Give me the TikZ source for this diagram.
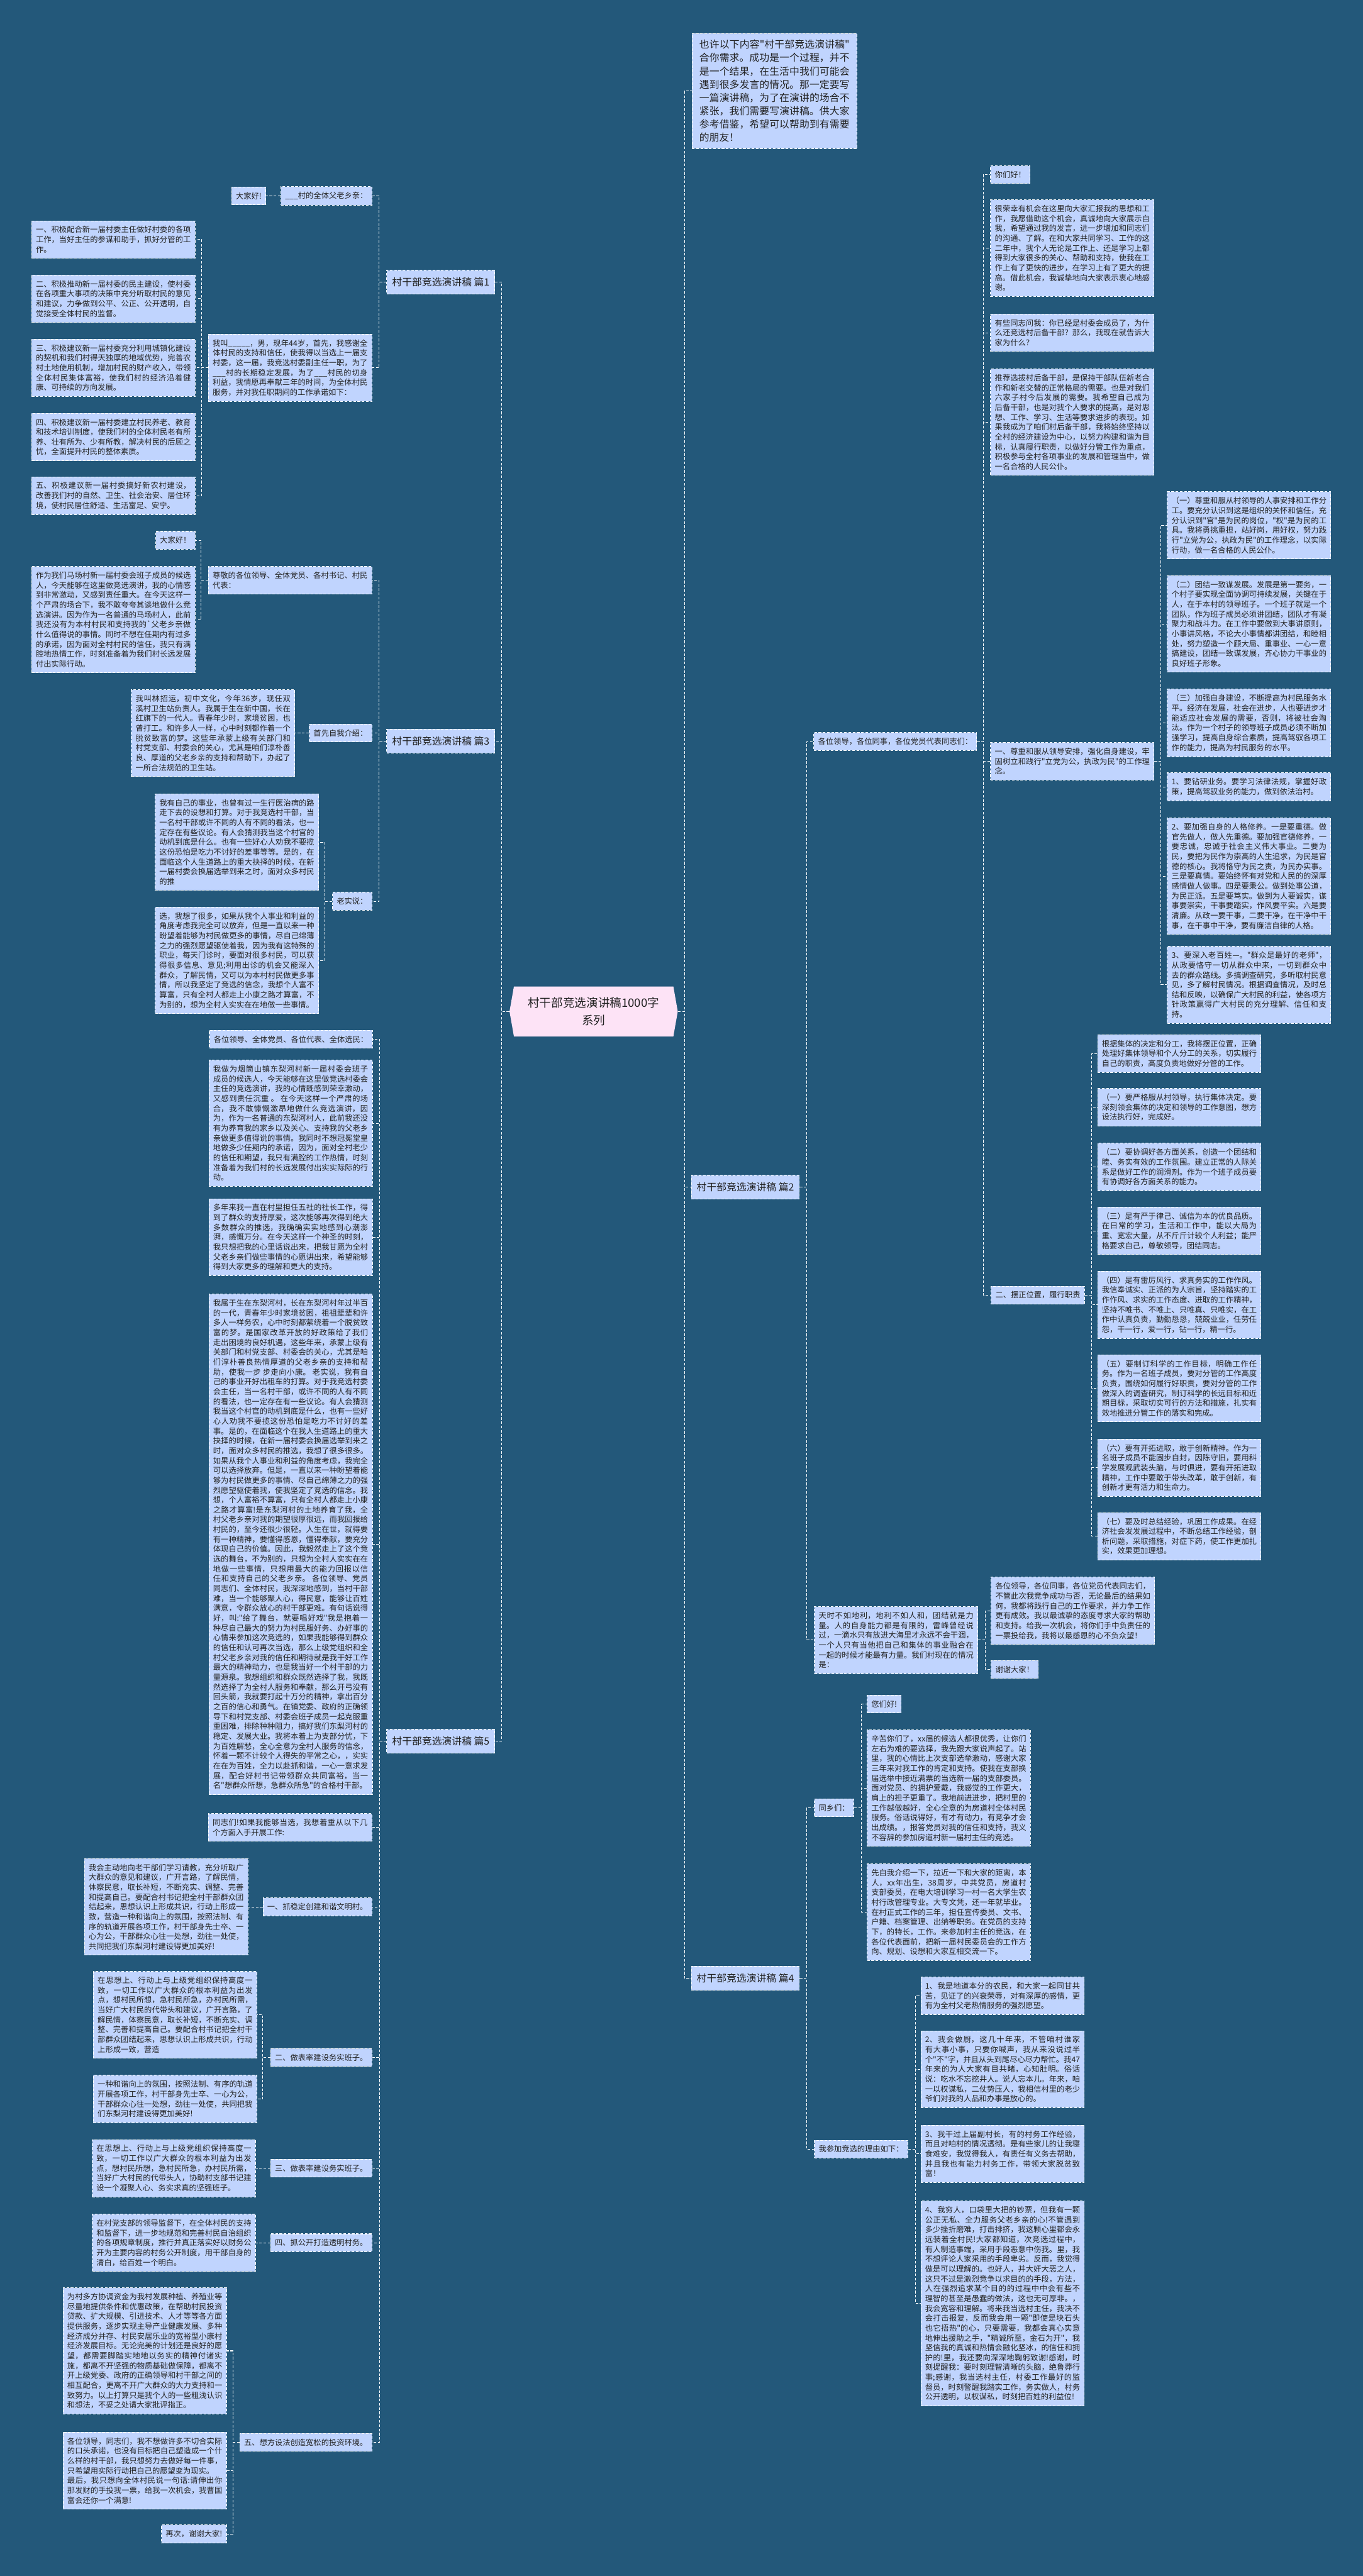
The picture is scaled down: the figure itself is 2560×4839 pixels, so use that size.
\documentclass[tikz,border=0pt]{standalone}
\usepackage{fontspec}
\newfontfamily\cjk{Noto Sans CJK SC}
\XeTeXlinebreaklocale "zh"
\XeTeXlinebreakskip=0pt plus 1pt
\usetikzlibrary{positioning,shapes.symbols}

\definecolor{sea}{HTML}{23587A}
\definecolor{card}{HTML}{C0D4FE}
\definecolor{rose}{HTML}{FDE3F6}
\definecolor{ink}{HTML}{222222}

\tikzset{
  box/.style={draw=white, dash pattern=on 2.5pt off 1.5pt, line width=0.6pt, fill=card, text=ink,
    inner xsep=4pt, inner ysep=5pt, font=\cjk\fontsize{7.25pt}{9.25pt}\selectfont},
  leaf/.style={box, text width=145.5pt, align=justify},
  pian/.style={box, font=\cjk\fontsize{9.35pt}{12.5pt}\selectfont, inner xsep=5pt, minimum height=22.5pt},
  link/.style={draw=white, dash pattern=on 2.5pt off 1.5pt, line width=0.6pt},
}

\begin{document}
\begin{tikzpicture}[x=0.5pt,y=-0.5pt]
\useasboundingbox (0,0) rectangle (2560,4839);
\fill[sea] (0,0) rectangle (2560,4839);

\node[signal, signal to=east and west, signal pointer angle=160, fill=rose, text=ink,
  font=\cjk\fontsize{11pt}{16.5pt}\selectfont, align=center, minimum width=158pt, minimum height=47pt]
  (root) at (1115,1900) {村干部竞选演讲稿1000字\\系列};

% left: 篇1
\node[pian, anchor=east] (t1) at (930,530) {村干部竞选演讲稿 篇1};
\node[box, anchor=east] (p1a) at (699,368) {\_\_\_村的全体父老乡亲：};
\node[box, left=13.5pt of p1a] (p1b) {大家好!};
\node[leaf, anchor=east] (p1c) at (699,691) {我叫\_\_\_\_\_，男，现年44岁，首先，我感谢全体村民的支持和信任，使我得以当选上一届支村委，这一届，我竞选村委副主任一职，为了\_\_\_村的长期稳定发展，为了\_\_\_村民的切身利益，我情愿再奉献三年的时间，为全体村民服务，并对我任职期间的工作承诺如下：};
\node[leaf, anchor=east] (p1c1) at (367,450) {一、积极配合新一届村委主任做好村委的各项工作，当好主任的参谋和助手，抓好分管的工作。};
\node[leaf, anchor=east] (p1c2) at (367,561) {二、积极推动新一届村委的民主建设，使村委在各项重大事项的决策中充分听取村民的意见和建议，力争做到公平、公正、公开透明，自觉接受全体村民的监督。};
\node[leaf, anchor=east] (p1c3) at (367,691) {三、积极建议新一届村委充分利用城镇化建设的契机和我们村得天独厚的地域优势，完善农村土地使用机制，增加村民的财产收入，带领全体村民集体富裕，使我们村的经济沿着健康、可持续的方向发展。};
\node[leaf, anchor=east] (p1c4) at (367,821) {四、积极建议新一届村委建立村民养老、教育和技术培训制度，使我们村的全体村民老有所养、壮有所为、少有所教，解决村民的后顾之忧，全面提升村民的整体素质。};
\node[leaf, anchor=east] (p1c5) at (367,931) {五、积极建议新一届村委搞好新农村建设，改善我们村的自然、卫生、社会治安、居住环境，使村民居住舒适、生活富足、安宁。};

% left: 篇3
\node[pian, anchor=east] (t3) at (930,1392) {村干部竞选演讲稿 篇3};
\node[leaf, anchor=east] (p3a) at (699,1090) {尊敬的各位领导、全体党员、各村书记、村民代表：};
\node[box, anchor=east] (p3a1) at (367,1015) {大家好！};
\node[leaf, anchor=east] (p3a2) at (367,1164) {作为我们马场村新一届村委会班子成员的候选人，今天能够在这里做竞选演讲，我的心情感到非常激动，又感到责任重大。在今天这样一个严肃的场合下，我不敢夸夸其谈地做什么竞选演讲。因为作为一名普通的马场村人，此前我还没有为本村村民和支持我的\textasciigrave 父老乡亲做什么值得说的事情。同时不想在任期内有过多的承诺，因为面对全村村民的信任，我只有满腔地热情工作，时刻准备着为我们村长远发展付出实际行动。};
\node[box, anchor=east] (p3b) at (699,1377) {首先自我介绍：};
\node[leaf, left=13pt of p3b] (p3b1) {我叫林招运，初中文化，今年36岁，现任双溪村卫生站负责人。我属于生在新中国，长在红旗下的一代人。青春年少时，家境贫困，也曾打工。和许多人一样，心中时刻都作着一个脱贫致富的梦。这些年承蒙上级有关部门和村党支部、村委会的关心，尤其是咱们淳朴善良、厚道的父老乡亲的支持和帮助下，办起了一所合法规范的卫生站。};
\node[box, anchor=east] (p3c) at (699,1693) {老实说：};
\node[leaf, anchor=east] (p3c1) at (599,1582) {我有自己的事业，也曾有过一生行医治病的路走下去的设想和打算。对于我竞选村干部，当一名村干部或许不同的人有不同的看法，也一定存在有些议论。有人会猜测我当这个村官的动机到底是什么。也有一些好心人劝我不要揽这份恐怕是吃力不讨好的差事等等。是的，在面临这个人生道路上的重大抉择的时候，在新一届村委会换届选举到来之时，面对众多村民的推};
\node[leaf, anchor=east] (p3c2) at (599,1804) {选，我想了很多，如果从我个人事业和利益的角度考虑我完全可以放弃，但是一直以来一种盼望着能够为村民做更多的事情，尽自己绵薄之力的强烈愿望驱使着我，因为我有这特殊的职业，每天门诊时，要面对很多村民，可以获得很多信息、意见;利用出诊的机会又能深入群众，了解民情，又可以为本村村民做更多事情，所以我坚定了竞选的信念，我想个人富不算富，只有全村人都走上小康之路才算富，不为别的，想为全村人实实在在地做一些事情。};

% left: 篇5
\node[pian, anchor=east] (t5) at (930,3271) {村干部竞选演讲稿 篇5};
\node[box, anchor=east] (p5a) at (700,1952) {各位领导、全体党员、各位代表、全体选民：};
\node[leaf, anchor=east] (p5b) at (700,2110) {我做为烟筒山镇东梨河村新一届村委会班子成员的候选人，今天能够在这里做竞选村委会主任的竞选演讲，我的心情既感到荣幸激动，又感到责任沉重 。 在今天这样一个严肃的场合，我不敢慷慨激昂地做什么竞选演讲，因为，作为一名普通的东梨河村人，此前我还没有为养育我的家乡以及关心、支持我的父老乡亲做更多值得说的事情。我同时不想冠冕堂皇地做多少任期内的承诺，因为，面对全村老少的信任和期望，我只有满腔的工作热情，时刻准备着为我们村的长远发展付出实实际际的行动。};
\node[leaf, anchor=east] (p5c) at (700,2324) {多年来我一直在村里担任五社的社长工作，得到了群众的支持厚爱，这次能够再次得到绝大多数群众的推选，我确确实实地感到心潮澎湃，感慨万分。在今天这样一个神圣的时刻，我只想把我的心里话说出来，把我甘愿为全村父老乡亲们做些事情的心愿讲出来，希望能够得到大家更多的理解和更大的支持。};
\node[leaf, anchor=east] (p5d) at (700,2901) {我属于生在东梨河村，长在东梨河村年过半百的一代，青春年少时家境贫困，祖祖辈辈和许多人一样务农，心中时刻都萦绕着一个脱贫致富的梦。是国家改革开放的好政策给了我们走出困境的良好机遇，这些年来，承蒙上级有关部门和村党支部、村委会的关心，尤其是咱们淳朴善良热情厚道的父老乡亲的支持和帮助，使我一步 步走向小康。 老实说，我有自己的事业开好出租车的打算。对于我竞选村委会主任，当一名村干部，或许不同的人有不同的看法，也一定存在有一些议论。有人会猜测我当这个村官的动机到底是什么，也有一些好心人劝我不要揽这份恐怕是吃力不讨好的差事。是的，在面临这个在我人生道路上的重大抉择的时候，在新一届村委会换届选举到来之时，面对众多村民的推选，我想了很多很多。如果从我个人事业和利益的角度考虑，我完全可以选择放弃。但是，一直以来一种盼望着能够为村民做更多的事情、尽自己绵薄之力的强烈愿望驱使着我，使我坚定了竞选的信念。我想，个人富裕不算富，只有全村人都走上小康之路才算富!是东梨河村的土地养育了我，全村父老乡亲对我的期望很厚很远，而我回报给村民的，至今还很少很轻。人生在世，就得要有一种精神，要懂得感恩，懂得奉献，要充分体现自己的价值。因此，我毅然走上了这个竞选的舞台，不为别的，只想为全村人实实在在地做一些事情，只想用最大的能力回报以信任和支持自己的父老乡亲。 各位领导、党员同志们、全体村民，我深深地感到，当村干部难，当一个能够聚人心，得民意，能够让百姓满意，令群众放心的村干部更难。有句话说得好，叫:"给了舞台，就要唱好戏"我是抱着一种尽自己最大的努力为村民服好务、办好事的心情来参加这次竞选的，如果我能够得到群众的信任和认可再次当选，那么上级党组织和全村父老乡亲对我的信任和期待就是我干好工作最大的精神动力，也是我当好一个村干部的力量源泉。我想组织和群众既然选择了我，我既然选择了为全村人服务和奉献，那么开弓没有回头箭，我就要打起十万分的精神，拿出百分之百的信心和勇气。在镇党委、政府的正确领导下和村党支部、村委会班子成员一起克服重重困难，排除种种阻力，搞好我们东梨河村的稳定、发展大业。我将本着上为支部分忧，下为百姓解愁，全心全意为全村人服务的信念，怀着一颗不计较个人得失的平常之心，，实实在在为百姓，全力以赴抓和谐，一心一意求发展，配合好村书记带领群众共同富裕，当一名"想群众所想，急群众所急"的合格村干部。};
\node[leaf, anchor=east] (p5e) at (699,3433) {同志们!如果我能够当选，我想着重从以下几个方面入手开展工作:};
\node[box, anchor=east] (p5f) at (699,3582) {一、抓稳定创建和谐文明村。};
\node[leaf, left=13.5pt of p5f] (p5f1) {我会主动地向老干部们学习请教，充分听取广大群众的意见和建议，广开言路，了解民情，体察民意，取长补短，不断充实、调整、完善和提高自己。要配合村书记把全村干部群众团结起来，思想认识上形成共识，行动上形成一致，营造一种和谐向上的氛围，按照法制、有序的轨道开展各项工作，村干部身先士卒、一心为公，干部群众心往一处想，劲往一处使，共同把我们东梨河村建设得更加美好!};
\node[box, anchor=east] (p5g) at (699,3865) {二、做表率建设务实班子。};
\node[leaf, anchor=east] (p5g1) at (483,3785) {在思想上、行动上与上级党组织保持高度一致，一切工作以广大群众的根本利益为出发点，想村民所想，急村民所急，办村民所需，当好广大村民的代带头和建议，广开言路，了解民情，体察民意，取长补短，不断充实、调整、完善和提高自己。要配合村书记把全村干部群众团结起来，思想认识上形成共识，行动上形成一致，营造};
\node[leaf, anchor=east] (p5g2) at (483,3943) {一种和谐向上的氛围，按照法制、有序的轨道开展各项工作，村干部身先士卒、一心为公，干部群众心往一处想，劲往一处使，共同把我们东梨河村建设得更加美好!};
\node[box, anchor=east] (p5h) at (699,4073) {三、做表率建设务实班子。};
\node[leaf, left=13.5pt of p5h] (p5h1) {在思想上、行动上与上级党组织保持高度一致，一切工作以广大群众的根本利益为出发点，想村民所想，急村民所急，办村民所需，当好广大村民的代带头人，协助村支部书记建设一个凝聚人心、务实求真的坚强班子。};
\node[box, anchor=east] (p5i) at (699,4213) {四、抓公开打造透明村务。};
\node[leaf, left=13.5pt of p5i] (p5i1) {在村党支部的领导监督下，在全体村民的支持和监督下，进一步地规范和完善村民自治组织的各项规章制度，推行并真正落实好以财务公开为主要内容的村务公开制度，用干部自身的清白，给百姓一个明白。};
\node[box, anchor=east] (p5j) at (699,4588) {五、想方设法创造宽松的投资环境。};
\node[leaf, anchor=east] (p5j1) at (426,4416) {为村多方协调资金为我村发展种植、养殖业等尽量地提供条件和优惠政策，在帮助村民投资贷款、扩大规模、引进技术、人才等等各方面提供服务，逐步实现主导产业健康发展、多种经济成分并存、村民安居乐业的宽裕型小康村经济发展目标。无论完美的计划还是良好的愿望，都需要脚踏实地地以务实的精神付诸实施，都离不开坚强的物质基础做保障，都离不开上级党委、政府的正确领导和村干部之间的相互配合，更离不开广大群众的大力支持和一致努力。以上打算只是我个人的一些粗浅认识和想法，不妥之处请大家批评指正。};
\node[leaf, anchor=east] (p5j2) at (426,4641) {各位领导，同志们，我不想做许多不切合实际的口头承诺，也没有目标把自己塑造成一个什么样的村干部，我只想努力去做好每一件事，只希望用实际行动把自己的愿望变为现实。\\最后，我只想向全体村民说一句话:请伸出你那发财的手投我一票，给我一次机会，我曹国富会还你一个满意!};
\node[box, anchor=east] (p5j3) at (426,4760) {再次，谢谢大家!};

% right: intro, 篇2
\node[box, anchor=west, text width=141pt, align=justify, inner xsep=7pt, inner ysep=6pt,
  font=\cjk\fontsize{9.35pt}{12.5pt}\selectfont] (intro) at (1299,171) {也许以下内容"村干部竞选演讲稿"\allowbreak 合你需求。成功是一个过程，并不是一个结果，在生活中我们可能会遇到很多发言的情况。那一定要写一篇演讲稿，为了在演讲的场合不紧张，我们需要写演讲稿。供大家参考借鉴，希望可以帮助到有需要的朋友！};
\node[pian, anchor=west] (t2) at (1298,2230) {村干部竞选演讲稿 篇2};
\node[box, anchor=west] (p2a) at (1528,1393) {各位领导，各位同事，各位党员代表同志们：};
\node[box, anchor=west] (p2a1) at (1860,328) {你们好！};
\node[leaf, anchor=west] (p2a2) at (1860,466) {很荣幸有机会在这里向大家汇报我的思想和工作，我愿借助这个机会，真诚地向大家展示自我，希望通过我的发言，进一步增加和同志们的沟通、了解。在和大家共同学习、工作的这二年中，我个人无论是工作上、还是学习上都得到大家很多的关心、帮助和支持，使我在工作上有了更快的进步，在学习上有了更大的提高。借此机会，我诚挚地向大家表示衷心地感谢。};
\node[leaf, anchor=west] (p2a3) at (1860,625) {有些同志问我：你已经是村委会成员了，为什么还竞选村后备干部？那么，我现在就告诉大家为什么？};
\node[leaf, anchor=west] (p2a4) at (1860,793) {推荐选拔村后备干部，是保持干部队伍新老合作和新老交替的正常格局的需要。也是对我们六家子村今后发展的需要。我希望自己成为后备干部，也是对我个人要求的提高，是对思想、工作、学习、生活等要求进步的表现。如果我成为了咱们村后备干部，我将始终坚持以全村的经济建设为中心，以努力构建和谐为目标，认真履行职责，以做好分管工作为重点，积极参与全村各项事业的发展和管理当中，做一名合格的人民公仆。};
\node[leaf, anchor=west] (p2a5) at (1860,1430) {一、尊重和服从领导安排，强化自身建设，牢固树立和践行"立党为公，执政为民"的工作理念。};
\node[leaf, anchor=west] (q1) at (2192,987) {（一）尊重和服从村领导的人事安排和工作分工。要充分认识到这是组织的关怀和信任，充分认识到"官"是为民的岗位，"权"是为民的工具。我将勇挑重担，站好岗，用好权，努力践行"立党为公，执政为民"的工作理念，以实际行动，做一名合格的人民公仆。};
\node[leaf, anchor=west] (q2) at (2192,1172) {（二）团结一致谋发展。发展是第一要务，一个村子要实现全面协调可持续发展，关键在于人，在于本村的领导班子。一个班子就是一个团队，作为班子成员必须讲团结，团队才有凝聚力和战斗力。在工作中要做到大事讲原则，小事讲风格，不论大小事情都讲团结，和睦相处，努力塑造一个顾大局、重事业、一心一意搞建设，团结一致谋发展，齐心协力干事业的良好班子形象。};
\node[leaf, anchor=west] (q3) at (2192,1358) {（三）加强自身建设，不断提高为村民服务水平。经济在发展，社会在进步，人也要进步才能适应社会发展的需要，否则，将被社会淘汰。作为一个村子的领导班子成员必须不断加强学习，提高自身综合素质，提高驾驭各项工作的能力，提高为村民服务的水平。};
\node[leaf, anchor=west] (q4) at (2192,1478) {1、要钻研业务。要学习法律法规，掌握好政策，提高驾驭业务的能力，做到依法治村。};
\node[leaf, anchor=west] (q5) at (2192,1646) {2、要加强自身的人格修养。一是要重德。做官先做人，做人先重德。要加强官德修养，一要忠诚，忠诚于社会主义伟大事业。二要为民，要把为民作为崇高的人生追求，为民是官德的核心。我将恪守为民之责，为民办实事。三是要真情。要始终怀有对党和人民的的深厚感情做人做事。四是要秉公。做到处事公道，为民正派。五是要笃实。做到为人要诚实，谋事要崇实，干事要踏实，作风要平实。六是要清廉。从政一要干事，二要干净，在干净中干事，在干事中干净，要有廉洁自律的人格。};
\node[leaf, anchor=west] (q6) at (2192,1850) {3、要深入老百姓—。"群众是最好的老师"，从政要恪守一切从群众中来，一切到群众中去的群众路线。多搞调查研究，多听取村民意见，多了解村民情况。根据调查情况，及时总结和反映，以确保广大村民的利益，使各项方针政策赢得广大村民的充分理解、信任和支持。};
\node[box, anchor=west] (p2a6) at (1861,2433) {二、摆正位置，履行职责};
\node[leaf, anchor=west] (r0) at (2061,1979) {根据集体的决定和分工，我将摆正位置，正确处理好集体领导和个人分工的关系，切实履行自己的职责，高度负责地做好分管的工作。};
\node[leaf, anchor=west] (r1) at (2061,2080) {（一）要严格服从村领导，执行集体决定。要深刻领会集体的决定和领导的工作意图，想方设法执行好，完成好。};
\node[leaf, anchor=west] (r2) at (2061,2192) {（二）要协调好各方面关系，创造一个团结和睦、务实有效的工作氛围。建立正常的人际关系是做好工作的润滑剂。作为一个班子成员要有协调好各方面关系的能力。};
\node[leaf, anchor=west] (r3) at (2061,2312) {（三）是有严于律己、诚信为本的优良品质。在日常的学习，生活和工作中，能以大局为重、宽宏大量，从不斤斤计较个人利益；能严格要求自己，尊敬领导，团结同志。};
\node[leaf, anchor=west] (r4) at (2061,2451) {（四）是有雷厉风行、求真务实的工作作风。我信奉诚实、正派的为人宗旨，坚持踏实的工作作风、求实的工作态度、进取的工作精神，坚持不唯书、不唯上、只唯真、只唯实，在工作中认真负责，勤勤恳恳，兢兢业业，任劳任怨，干一行，爱一行，钻一行，精一行。};
\node[leaf, anchor=west] (r5) at (2061,2608) {（五）要制订科学的工作目标，明确工作任务。作为一名班子成员，要对分管的工作高度负责，围绕如何履行好职责，要对分管的工作做深入的调查研究，制订科学的长远目标和近期目标，采取切实可行的方法和措施，扎实有效地推进分管工作的落实和完成。};
\node[leaf, anchor=west] (r6) at (2061,2757) {（六）要有开拓进取，敢于创新精神。作为一名班子成员不能固步自封，因陈守旧，要用科学发展观武装头脑，与时俱进，要有开拓进取精神，工作中要敢于带头改革，敢于创新，有创新才更有活力和生命力。};
\node[leaf, anchor=west] (r7) at (2061,2886) {（七）要及时总结经验，巩固工作成果。在经济社会发发展过程中，不断总结工作经验，剖析问题，采取措施，对症下药，使工作更加扎实，效果更加理想。};
\node[leaf, anchor=west] (p2b) at (1529,3081) {天时不如地利，地利不如人和，团结就是力量。人的自身能力都是有限的，雷峰曾经说过，一滴水只有放进大海里才永远不会干涸，一个人只有当他把自己和集体的事业融合在一起的时候才能最有力量。我们村现在的情况是：};
\node[leaf, anchor=west] (p2b1) at (1861,3026) {各位领导，各位同事，各位党员代表同志们，不管此次我竞争成功与否，无论最后的结果如何，我都将践行自己的工作要求，并力争工作更有成效。我以最诚挚的态度寻求大家的帮助和支持。给我一次机会，将你们手中负责任的一票投给我，我将以最感恩的心不负众望！};
\node[box, anchor=west] (p2b2) at (1861,3136) {谢谢大家！};

% right: 篇4
\node[pian, anchor=west] (t4) at (1298,3716) {村干部竞选演讲稿 篇4};
\node[box, anchor=west] (p4a) at (1529,3396) {同乡们：};
\node[box, anchor=west] (p4a1) at (1628,3201) {您们好!};
\node[leaf, anchor=west] (p4a2) at (1628,3359) {辛苦你们了，xx届的候选人都很优秀，让你们左右为难的要选择，我先跟大家说声起了。站里，我的心情比上次支部选举激动，感谢大家三年来对我工作的肯定和支持。使我在支部换届选举中接近满票的当选新一届的支部委员。面对党员、的拥护爱戴，我感觉的工作更大，肩上的担子更重了。我地前进进步，把村里的工作越做越好，全心全意的为房道村全体村民服务。俗话说得好，有才有动力，有竞争才会出成绩。，报答党员对我的信任和支持，我义不容辞的参加房道村新一届村主任的竞选。};
\node[leaf, anchor=west] (p4a3) at (1628,3592) {先自我介绍一下，拉近一下和大家的距离，本人，xx年出生，38周岁，中共党员，房道村支部委员，在电大培训学习一村一名大学生农村行政管理专业。大专文凭，还一年就毕业。在村正式工作的三年，担任宣传委员、文书、户籍、档案管理、出纳等职务。在党员的支持下，的特长，工作。来参加村主任的竞选，在各位代表面前，把新一届村民委员会的工作方向、规划、设想和大家互相交流一下。};
\node[box, anchor=west] (p4b) at (1529,4037) {我参加竞选的理由如下：};
\node[leaf, anchor=west] (s1) at (1729,3749) {1、我是地道本分的农民，和大家一起同甘共苦，见证了的兴衰荣辱，对有深厚的感情，更有为全村父老热情服务的强烈愿望。};
\node[leaf, anchor=west] (s2) at (1729,3887) {2、我会做厨，这几十年来，不管咱村谁家有大事小事，只要你喊声，我从来没说过半个"不"字，并且从头到尾尽心尽力帮忙。我47年来的为人大家有目共睹，心知肚明。俗话说：吃水不忘挖井人。说人忘本儿。年来，咱一以权谋私，二仗势压人，我相信村里的老少爷们对我的人品和办事是放心的。};
\node[leaf, anchor=west] (s3) at (1729,4046) {3、我干过上届副村长，有的村务工作经验，而且对咱村的情况透彻。是有些家儿的让我寝食难安，我觉得我人，有责任有义务去帮助，并且我也有能力村务工作，带领大家脱贫致富！};
\node[leaf, anchor=west] (s4) at (1729,4327) {4、我穷人，口袋里大把的钞票，但我有一颗公正无私、全力服务父老乡亲的心!不管遇到多少挫折磨难，打击排挤，我这颗心里都会永远装着全村民!大家都知道，次竞选过程中，有人制造事端，采用手段恶意中伤我。里，我不想评论人家采用的手段卑劣。反而，我觉得做是可以理解的。也好人，并大奸大恶之人，这只不过是激烈竞争以求目的的手段，方法，人在强烈追求某个目的的过程中中会有些不理智的甚至是愚蠢的做法，这也无可厚非。，我会宽容和理解。将来我当选村主任，我决不会打击报复，反而我会用一颗"即使是块石头也它捂热"的心，只要需要，我都会真心实意地伸出援助之手，"精诚所至，金石为开"，我坚信我的真诚和热情会融化坚冰，的信任和拥护的!里，我还要向深深地鞠躬致谢!感谢，时刻提醒我：要时刻理智清晰的头脑，绝鲁莽行事;感谢，我当选村主任，村委工作最好的监督员，时刻警醒我踏实工作，务实做人，村务公开透明，以权谋私，时刻把百姓的利益位!};

% connectors
\foreach \c in {intro,t2,t4} \draw[link] (root.east) -- ++(12,0) |- (\c.west);
\foreach \c in {t1,t3,t5} \draw[link] (root.west) -- ++(-14,0) |- (\c.east);

\foreach \c in {p1a,p1c} \draw[link] (t1.west) -- ++(-14,0) |- (\c.east);
\draw[link] (p1a.west) -- (p1b.east);
\foreach \c in {p1c1,p1c2,p1c3,p1c4,p1c5} \draw[link] (p1c.west) -- ++(-12,0) |- (\c.east);

\foreach \c in {p3a,p3b,p3c} \draw[link] (t3.west) -- ++(-14,0) |- (\c.east);
\foreach \c in {p3a1,p3a2} \draw[link] (p3a.west) -- ++(-13,0) |- (\c.east);
\draw[link] (p3b.west) -- (p3b1.east);
\foreach \c in {p3c1,p3c2} \draw[link] (p3c.west) -- ++(-14,0) |- (\c.east);

\foreach \c in {p5a,p5b,p5c,p5d,p5e,p5f,p5g,p5h,p5i,p5j} \draw[link] (t5.west) -- ++(-13,0) |- (\c.east);
\draw[link] (p5f.west) -- (p5f1.east);
\foreach \c in {p5g1,p5g2} \draw[link] (p5g.west) -- ++(-14,0) |- (\c.east);
\draw[link] (p5h.west) -- (p5h1.east);
\draw[link] (p5i.west) -- (p5i1.east);
\foreach \c in {p5j1,p5j2,p5j3} \draw[link] (p5j.west) -- ++(-12,0) |- (\c.east);

\foreach \c in {p2a,p2b} \draw[link] (t2.east) -- ++(13,0) |- (\c.west);
\foreach \c in {p2a1,p2a2,p2a3,p2a4,p2a5,p2a6} \draw[link] (p2a.east) -- ++(12,0) |- (\c.west);
\foreach \c in {q1,q2,q3,q4,q5,q6} \draw[link] (p2a5.east) -- ++(12,0) |- (\c.west);
\foreach \c in {r0,r1,r2,r3,r4,r5,r6,r7} \draw[link] (p2a6.east) -- ++(13,0) |- (\c.west);
\foreach \c in {p2b1,p2b2} \draw[link] (p2b.east) -- ++(13,0) |- (\c.west);

\foreach \c in {p4a,p4b} \draw[link] (t4.east) -- ++(13,0) |- (\c.west);
\foreach \c in {p4a1,p4a2,p4a3} \draw[link] (p4a.east) -- ++(14,0) |- (\c.west);
\foreach \c in {s1,s2,s3,s4} \draw[link] (p4b.east) -- ++(14,0) |- (\c.west);
\end{tikzpicture}
\end{document}
